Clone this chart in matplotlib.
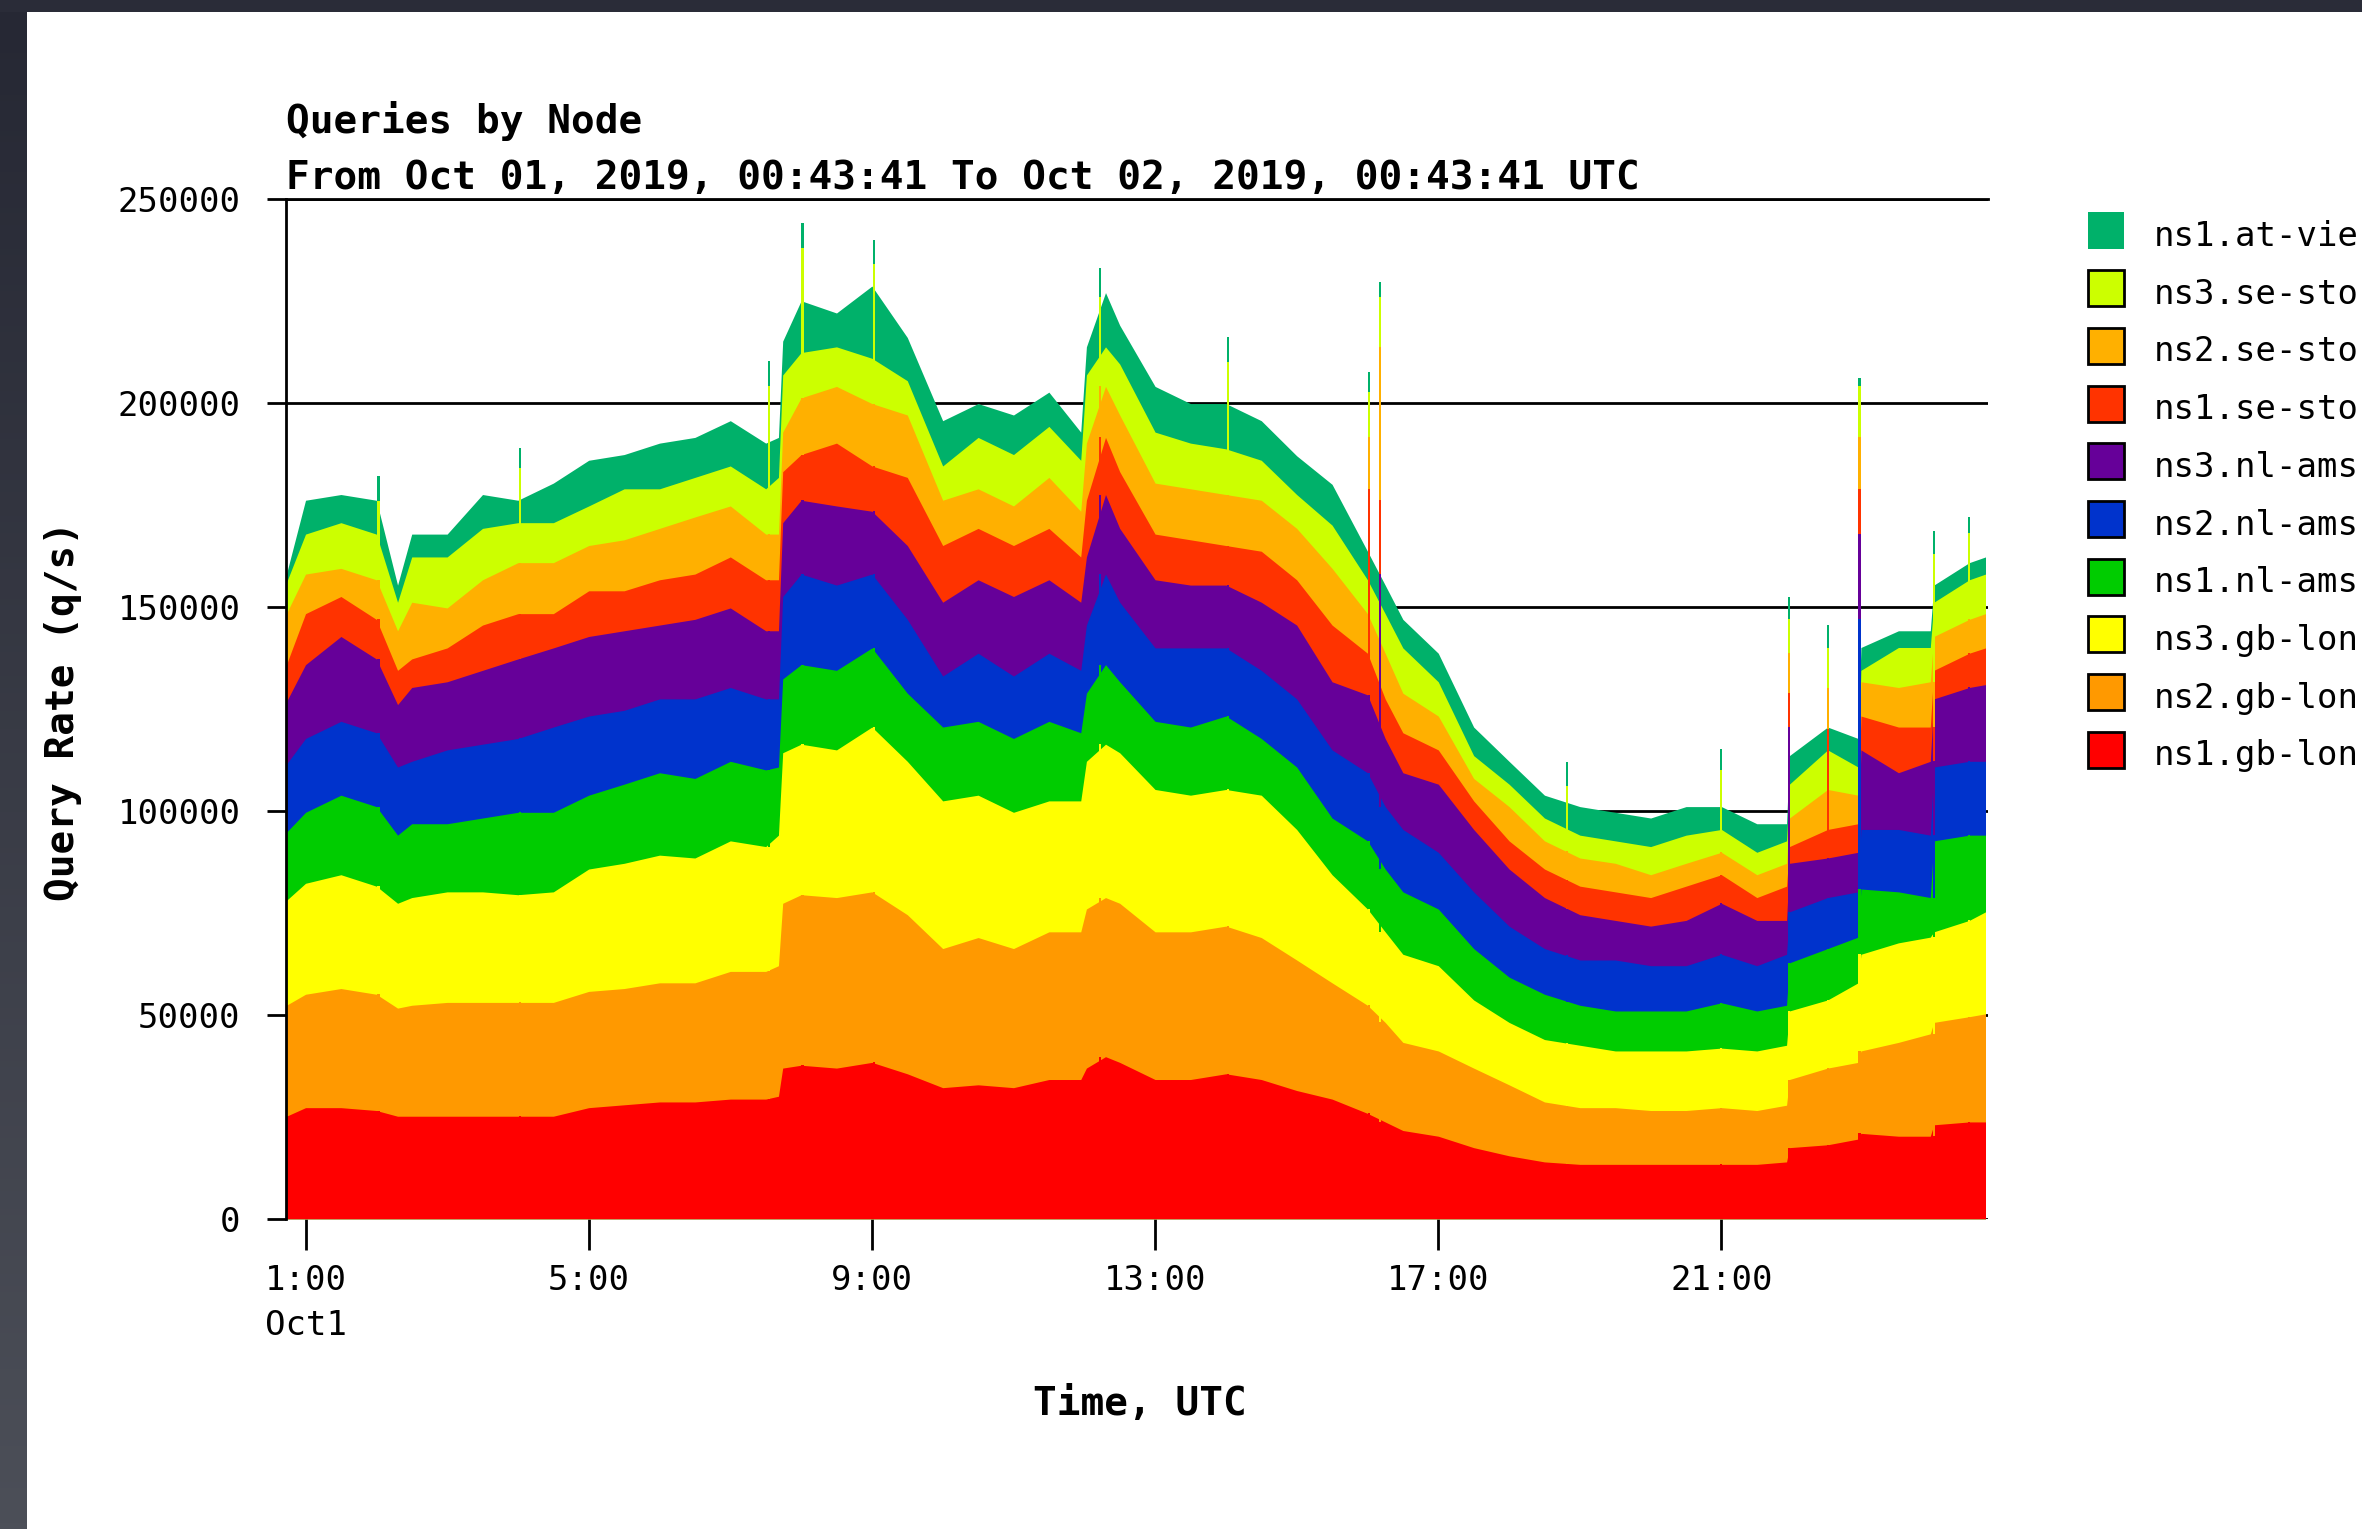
import numpy as np
import matplotlib
matplotlib.use('Agg')
import matplotlib.pyplot as plt
from matplotlib.patches import Rectangle
from matplotlib.colors import LinearSegmentedColormap

plt.rcParams['font.family'] = ['DejaVu Sans Mono', 'DejaVu Sans']

# hours since Oct 01 00:00 UTC
hours = [0.73, 1.0, 1.5, 2.0, 2.3, 2.5, 3.0, 3.5, 4.0, 4.5,
         5.0, 5.5, 6.0, 6.5, 7.0, 7.5, 7.68, 7.74, 8.0, 8.5,
         9.0, 9.5, 10.0, 10.5, 11.0, 11.5, 11.95, 12.03, 12.3, 12.5,
         13.0, 13.5, 14.0, 14.5, 15.0, 15.5, 16.0, 16.25, 16.5, 17.0,
         17.5, 18.0, 18.5, 19.0, 19.5, 20.0, 20.5, 21.0, 21.5, 21.92,
         21.96, 22.5, 22.93, 22.97, 23.5, 23.95, 24.0, 24.5, 24.73]

# upper edge of each stacked layer, in thousand q/s
top_ns1_gb_lon = [25.1, 27.2, 27.2, 26.5, 25.1, 25.1, 25.1, 25.1, 25.1, 25.1,
                  27.2, 27.9, 28.6, 28.6, 29.3, 29.3, 30.0, 36.9, 37.6, 36.9,
                  38.3, 35.5, 32.1, 32.8, 32.1, 34.1, 34.1, 36.9, 39.7, 38.3,
                  34.1, 34.1, 35.5, 34.1, 31.4, 29.3, 25.8, 23.7, 21.6, 20.2,
                  17.4, 15.4, 13.9, 13.3, 13.3, 13.3, 13.3, 13.3, 13.3, 13.9,
                  17.4, 18.1, 19.5, 20.9, 20.2, 20.2, 23.0, 23.7, 23.7]
top_ns2_gb_lon = [52.3, 55.0, 56.4, 55.0, 51.6, 52.3, 53.0, 53.0, 53.0, 53.0,
                  55.7, 56.4, 57.8, 57.8, 60.6, 60.6, 62.0, 77.3, 79.4, 78.7,
                  80.1, 74.5, 66.2, 68.9, 66.2, 70.3, 70.3, 75.9, 78.7, 77.3,
                  70.3, 70.3, 71.7, 68.9, 63.4, 57.8, 52.3, 48.1, 43.2, 41.1,
                  36.9, 32.8, 28.6, 27.2, 27.2, 26.5, 26.5, 27.2, 26.5, 27.8,
                  34.1, 36.9, 38.3, 41.1, 43.2, 45.3, 48.1, 49.5, 50.2]
top_ns3_gb_lon = [78.0, 82.2, 84.3, 81.5, 77.3, 78.7, 80.1, 80.1, 79.4, 80.1,
                  85.7, 87.1, 89.1, 88.4, 92.6, 91.2, 94.0, 114.2, 116.3, 114.9,
                  120.5, 112.1, 102.4, 103.8, 99.6, 102.4, 102.4, 112.1, 116.3, 114.2,
                  105.2, 103.8, 105.2, 103.8, 95.4, 84.3, 75.9, 70.3, 64.8, 62.0,
                  53.6, 48.1, 43.9, 42.5, 41.1, 41.1, 41.1, 41.8, 41.1, 42.5,
                  50.9, 53.6, 57.8, 64.8, 67.6, 69.0, 70.3, 73.1, 75.2]
top_ns1_nl_ams = [94.7, 99.6, 103.8, 101.0, 94.0, 96.8, 96.8, 98.2, 99.6, 99.6,
                  103.8, 106.5, 109.3, 107.9, 112.1, 110.0, 110.7, 132.3, 135.8, 134.4,
                  139.9, 128.8, 120.5, 121.9, 117.7, 121.9, 119.1, 128.8, 135.8, 131.6,
                  121.9, 120.5, 123.2, 117.7, 110.7, 98.2, 92.6, 85.7, 80.1, 75.9,
                  66.2, 59.2, 55.0, 52.3, 50.9, 50.9, 50.9, 52.9, 50.9, 52.3,
                  62.7, 66.2, 69.0, 80.8, 80.1, 78.7, 92.6, 94.0, 94.0]
top_ns2_nl_ams = [111.4, 117.7, 121.9, 119.1, 110.7, 112.1, 114.9, 116.3, 117.7, 120.5,
                  123.2, 124.6, 127.4, 127.4, 130.2, 127.4, 127.4, 152.5, 158.0, 155.3,
                  158.0, 146.9, 133.0, 138.6, 133.0, 138.6, 134.4, 145.5, 158.0, 151.1,
                  139.9, 139.9, 139.9, 134.4, 127.4, 114.9, 109.3, 101.0, 95.4, 89.8,
                  80.1, 71.7, 66.2, 63.4, 63.4, 62.0, 62.0, 64.8, 62.0, 64.8,
                  75.2, 78.7, 80.1, 95.4, 95.4, 94.0, 110.7, 112.1, 112.1]
top_ns3_nl_ams = [126.7, 135.8, 142.7, 137.2, 126.0, 130.2, 131.6, 134.4, 137.2, 139.9,
                  142.7, 144.1, 145.5, 146.9, 149.7, 144.1, 144.1, 170.6, 176.1, 174.7,
                  173.4, 165.0, 151.1, 156.6, 152.5, 156.6, 151.1, 162.2, 177.5, 169.2,
                  156.6, 155.3, 155.3, 151.1, 145.5, 131.6, 128.4, 117.7, 109.3, 106.5,
                  95.4, 85.7, 78.7, 74.5, 73.1, 71.7, 73.1, 77.3, 73.1, 73.1,
                  87.1, 88.4, 89.8, 114.9, 109.3, 112.1, 127.4, 130.2, 130.9]
top_ns1_se_sto = [135.8, 148.3, 152.5, 146.9, 134.4, 137.2, 139.9, 145.5, 148.3, 148.3,
                  153.9, 153.9, 156.6, 158.0, 162.2, 156.6, 156.6, 183.1, 187.3, 190.1,
                  184.5, 181.7, 165.0, 169.2, 165.0, 169.2, 162.2, 176.1, 191.5, 183.1,
                  167.8, 166.4, 165.0, 163.6, 156.6, 145.5, 138.6, 127.4, 119.1, 114.9,
                  102.4, 92.6, 85.7, 81.5, 80.1, 78.7, 81.5, 84.3, 78.7, 81.5,
                  91.2, 95.4, 96.8, 123.2, 120.5, 120.5, 134.4, 138.6, 139.9]
top_ns2_se_sto = [148.3, 158.0, 159.4, 156.6, 144.1, 151.1, 149.7, 156.6, 160.8, 160.8,
                  165.0, 166.4, 169.2, 172.0, 174.7, 167.8, 167.8, 192.8, 201.2, 204.0,
                  199.8, 197.0, 176.1, 178.9, 174.7, 181.7, 173.4, 190.1, 204.0, 197.0,
                  180.3, 178.9, 177.5, 176.1, 169.2, 159.4, 148.3, 138.6, 128.8, 123.2,
                  107.9, 101.0, 92.6, 88.4, 87.1, 84.3, 87.1, 89.8, 84.3, 87.1,
                  98.2, 105.2, 103.8, 131.6, 130.2, 131.6, 142.7, 146.9, 148.3]
top_ns3_se_sto = [155.9, 167.8, 170.6, 167.8, 151.1, 162.2, 162.2, 169.2, 170.6, 170.6,
                  174.7, 178.9, 178.9, 181.7, 184.5, 178.9, 181.7, 206.8, 212.3, 213.7,
                  210.9, 205.4, 184.5, 191.5, 187.3, 194.2, 185.9, 206.8, 213.7, 209.5,
                  192.8, 190.1, 188.7, 185.9, 177.5, 170.0, 156.6, 148.3, 139.9, 131.6,
                  113.5, 106.5, 98.2, 94.0, 92.6, 91.2, 94.0, 95.4, 89.8, 92.6,
                  106.5, 114.9, 110.7, 134.4, 140.0, 140.0, 151.1, 156.6, 158.0]
top_ns1_at_vie = [158.0, 176.1, 177.5, 176.1, 155.3, 167.8, 167.8, 177.5, 176.1, 180.3,
                  185.9, 187.3, 190.1, 191.5, 195.6, 190.1, 191.5, 215.1, 225.0, 222.0,
                  228.6, 216.0, 195.6, 199.8, 197.0, 202.6, 192.8, 213.7, 227.0, 219.0,
                  204.0, 199.8, 199.8, 195.6, 187.0, 180.0, 163.6, 155.3, 146.9, 138.6,
                  120.5, 112.1, 103.8, 101.0, 99.6, 98.2, 101.0, 101.0, 96.8, 96.8,
                  113.5, 120.5, 117.7, 140.0, 144.1, 144.1, 155.3, 160.8, 162.2]

# one-sample spikes: time and layer tops (bottom to top), thousand q/s
spike_hours = [2.03, 4.03, 7.55, 8.02, 9.03, 12.22, 14.03, 16.02, 16.18,
               18.82, 21.0, 21.95, 22.51, 22.95, 24.0, 24.5]
spike_tops = [
    [26.5, 55.0, 81.5, 101.0, 119.1, 137.2, 146.9, 156.6, 176.0, 182.0],
    [25.1, 53.0, 79.4, 99.6, 117.7, 137.2, 148.3, 160.8, 184.0, 189.0],
    [29.3, 60.6, 91.2, 110.0, 127.4, 144.1, 156.6, 167.8, 204.0, 210.2],
    [37.6, 79.4, 116.3, 135.8, 158.0, 176.1, 187.3, 201.2, 238.0, 244.0],
    [38.3, 80.1, 120.5, 139.9, 158.0, 173.4, 184.5, 199.8, 234.0, 240.0],
    [39.7, 78.7, 116.3, 135.8, 158.0, 177.5, 191.5, 204.0, 226.0, 233.0],
    [35.5, 71.7, 105.2, 123.2, 139.9, 155.3, 165.0, 177.5, 210.0, 216.0],
    [25.8, 52.3, 75.9, 92.6, 109.3, 128.4, 178.9, 191.5, 202.6, 207.5],
    [23.7, 48.1, 70.3, 85.7, 101.0, 158.0, 176.1, 213.7, 226.0, 229.7],
    [13.5, 27.5, 43.0, 53.0, 64.5, 76.0, 83.0, 90.0, 106.0, 112.0],
    [13.3, 27.2, 41.8, 52.9, 64.8, 77.3, 84.3, 89.8, 110.0, 115.0],
    [17.4, 34.1, 50.9, 62.7, 75.2, 120.5, 128.8, 138.6, 146.9, 152.5],
    [18.1, 36.9, 53.6, 66.2, 78.7, 88.4, 120.0, 130.0, 140.0, 145.5],
    [20.9, 41.1, 64.8, 80.8, 146.9, 167.8, 178.9, 191.5, 204.0, 206.1],
    [20.2, 45.3, 69.0, 78.7, 94.0, 112.1, 120.5, 131.6, 163.0, 168.5],
    [23.7, 49.5, 73.1, 94.0, 112.1, 130.2, 138.6, 146.9, 168.0, 172.0],
]

# stack order, bottom to top
nodes = ['ns1.gb-lon', 'ns2.gb-lon', 'ns3.gb-lon', 'ns1.nl-ams', 'ns2.nl-ams',
         'ns3.nl-ams', 'ns1.se-sto', 'ns2.se-sto', 'ns3.se-sto', 'ns1.at-vie']
node_colors = ['#ff0000', '#ff9900', '#ffff00', '#00cc00', '#0033cc',
               '#660099', '#ff3300', '#ffb000', '#ccff00', '#00b16a']
legend_labels = ['ns1.at-vie', 'ns3.se-sto', 'ns2.se-sto', 'ns1.se-sto', 'ns3.nl-ams',
                 'ns2.nl-ams', 'ns1.nl-ams', 'ns3.gb-lon', 'ns2.gb-lon', 'ns1.gb-lon']

tick_hours = [1, 5, 9, 13, 17, 21]
tick_labels = ['1:00\nOct1', '5:00', '9:00', '13:00', '17:00', '21:00']
ytick_vals = [0, 50000, 100000, 150000, 200000, 250000]

layer_tops = [top_ns1_gb_lon, top_ns2_gb_lon, top_ns3_gb_lon, top_ns1_nl_ams,
              top_ns2_nl_ams, top_ns3_nl_ams, top_ns1_se_sto, top_ns2_se_sto,
              top_ns3_se_sto, top_ns1_at_vie]

fig = plt.figure(figsize=(23.62, 15.29), dpi=100, facecolor='#2a2c38')

# white page with dark frame on top / left
fig.patches.append(Rectangle((0.0114, 0), 1.0, 0.992, transform=fig.transFigure,
                             facecolor='white', edgecolor='none', zorder=-5))
bg = fig.add_axes([0, 0, 0.0114, 0.992], zorder=-4)
frame_cmap = LinearSegmentedColormap.from_list('frame', ['#262834', '#4c4f58'])
bg.imshow(np.linspace(0, 1, 256).reshape(-1, 1), aspect='auto', cmap=frame_cmap)
bg.axis('off')

ax = fig.add_axes([0.1212, 0.2030, 0.7206, 0.6670])
ax.set_facecolor('white')
t = np.array(hours)

# paint each stack edge from zero, top layer first, so there are no seams
for tops, c in reversed(list(zip(layer_tops, node_colors))):
    ax.fill_between(t, 0, np.array(tops) * 1000, color=c, linewidth=0, zorder=2)

spk = np.array(spike_tops) * 1000
for i in reversed(range(len(nodes))):
    ax.bar(spike_hours, spk[:, i], width=0.03, color=node_colors[i],
           linewidth=0, zorder=3)

ax.set_xlim(0.728, 24.77)
ax.set_ylim(0, 250000)
ax.set_yticks(ytick_vals)
ax.set_yticklabels([str(v) for v in ytick_vals])
ax.set_xticks(tick_hours)
ax.set_xticklabels(tick_labels, linespacing=1.45)
ax.yaxis.grid(True, color='black', linewidth=2)
ax.set_axisbelow(True)
for s in ['right', 'bottom']:
    ax.spines[s].set_visible(False)
ax.spines['left'].set_linewidth(2)
ax.spines['top'].set_linewidth(2)
ax.tick_params(axis='y', direction='out', length=14, width=2, pad=19,
               labelsize=24.5, colors='black')
ax.tick_params(axis='x', direction='out', length=22, width=2, pad=11,
               labelsize=24.5, colors='black')

fig.text(0.1212, 0.921, 'Queries by Node', fontsize=28.4, fontweight='bold',
         ha='left', va='center')
fig.text(0.1212, 0.8835,
         'From Oct 01, 2019, 00:43:41 To Oct 02, 2019, 00:43:41 UTC',
         fontsize=28.4, fontweight='bold', ha='left', va='center')
fig.text(0.4828, 0.0818, 'Time, UTC', fontsize=28.4, fontweight='bold',
         ha='center', va='center')
fig.text(0.0268, 0.535, 'Query Rate (q/s)', fontsize=28.4, fontweight='bold',
         ha='center', va='center', rotation=90)

# legend, drawn by hand at the right edge
for i, (lab, c) in enumerate(zip(legend_labels, node_colors[::-1])):
    yc = 1 - (153 + 38.3 * i) / 1015
    edge = 'none' if i == 0 else 'black'
    fig.patches.append(Rectangle((0.8839, yc - 0.0118), 0.0153, 0.0236,
                                 transform=fig.transFigure, facecolor=c,
                                 edgecolor=edge, linewidth=2, zorder=3))
    fig.text(0.912, yc - 0.004, lab, fontsize=24.5, ha='left', va='center')

fig.savefig('out.png', dpi=100, facecolor=fig.get_facecolor())
